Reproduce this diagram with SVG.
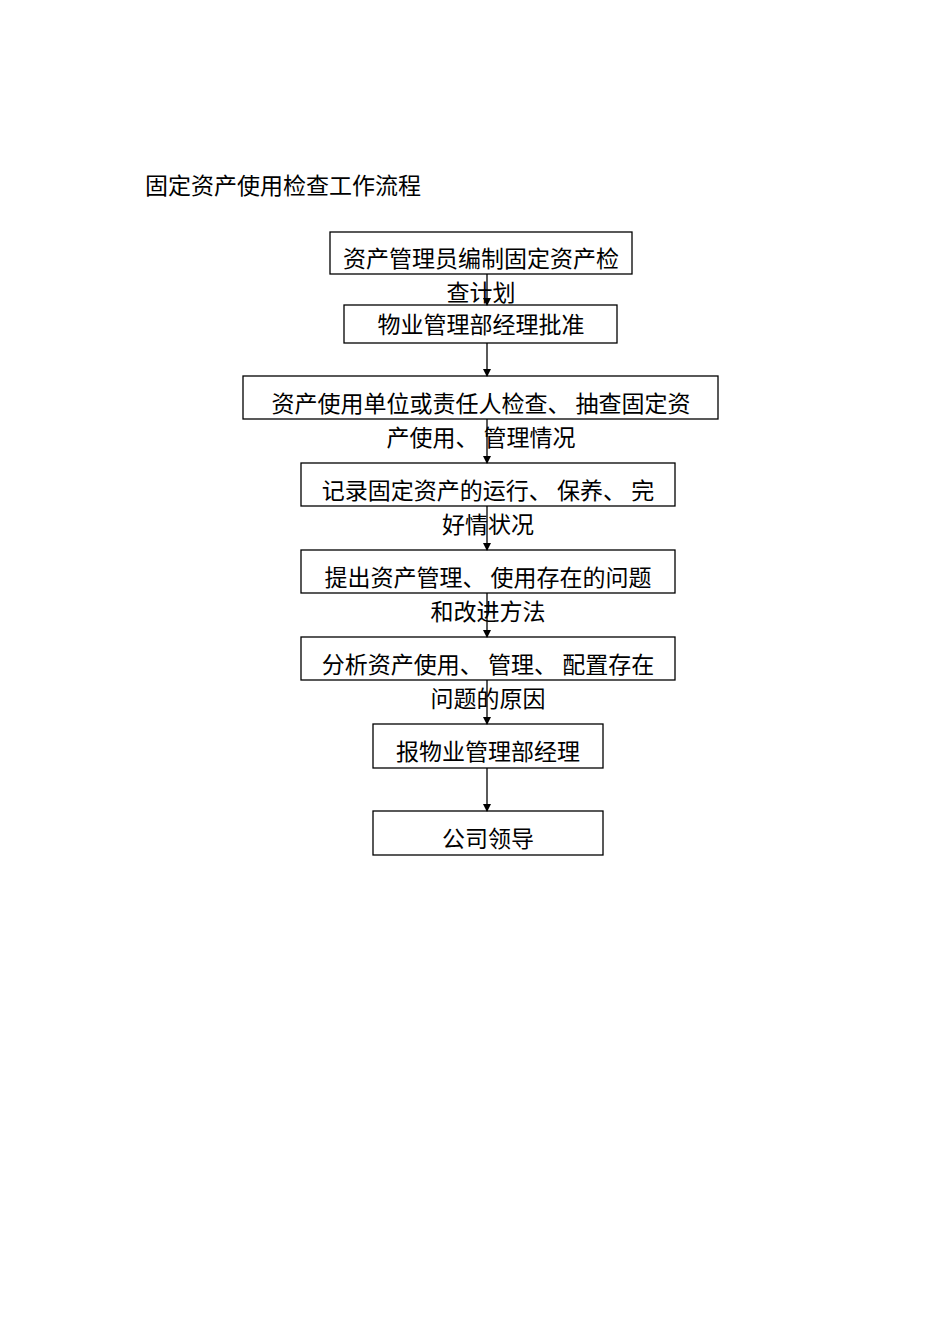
<svg xmlns="http://www.w3.org/2000/svg" width="950" height="1344" viewBox="0 0 950 1344">
<style>
text{font-family:"Noto Sans CJK SC","Liberation Sans",sans-serif;font-size:23px;fill:#000}
.b{fill:#fff;stroke:#000;stroke-width:1.3}
.c{stroke:#000;stroke-width:1.3;fill:none;marker-end:url(#a)}
</style>
<defs><marker id="a" markerWidth="8" markerHeight="8" refX="7" refY="4" orient="auto" markerUnits="userSpaceOnUse"><path d="M0,0 L8,4 L0,8z" fill="#000"/></marker></defs>
<rect width="950" height="1344" fill="#fff"/>
<text x="145" y="194">固定资产使用检查工作流程</text>
<g id="n1"><rect class="b" x="330" y="232" width="302" height="42"/><text x="481" y="267" text-anchor="middle">资产管理员编制固定资产检</text><text x="481" y="301" text-anchor="middle">查计划</text></g>
<g id="n2"><rect class="b" x="344" y="305" width="273" height="38"/><text x="481" y="333" text-anchor="middle">物业管理部经理批准</text></g>
<g id="n3"><rect class="b" x="243" y="376" width="475" height="43"/><text x="481" y="412" text-anchor="middle">资产使用单位或责任人检查、 抽查固定资</text><text x="481" y="446" text-anchor="middle">产使用、 管理情况</text></g>
<g id="n4"><rect class="b" x="301" y="463" width="374" height="43"/><text x="488" y="499" text-anchor="middle">记录固定资产的运行、 保养、 完</text><text x="488" y="533" text-anchor="middle">好情状况</text></g>
<g id="n5"><rect class="b" x="301" y="550" width="374" height="43"/><text x="488" y="586" text-anchor="middle">提出资产管理、 使用存在的问题</text><text x="488" y="620" text-anchor="middle">和改进方法</text></g>
<g id="n6"><rect class="b" x="301" y="637" width="374" height="43"/><text x="488" y="673" text-anchor="middle">分析资产使用、 管理、 配置存在</text><text x="488" y="707" text-anchor="middle">问题的原因</text></g>
<g id="n7"><rect class="b" x="373" y="724" width="230" height="44"/><text x="488" y="760" text-anchor="middle">报物业管理部经理</text></g>
<g id="n8"><rect class="b" x="373" y="811" width="230" height="44"/><text x="488" y="847" text-anchor="middle">公司领导</text></g>
<g id="connectors">
<path class="c" d="M487,274 V305"/>
<path class="c" d="M487,343 V376"/>
<path class="c" d="M487,419 V463"/>
<path class="c" d="M487,506 V550"/>
<path class="c" d="M487,593 V637"/>
<path class="c" d="M487,680 V724"/>
<path class="c" d="M487,768 V811"/>
</g>
</svg>
